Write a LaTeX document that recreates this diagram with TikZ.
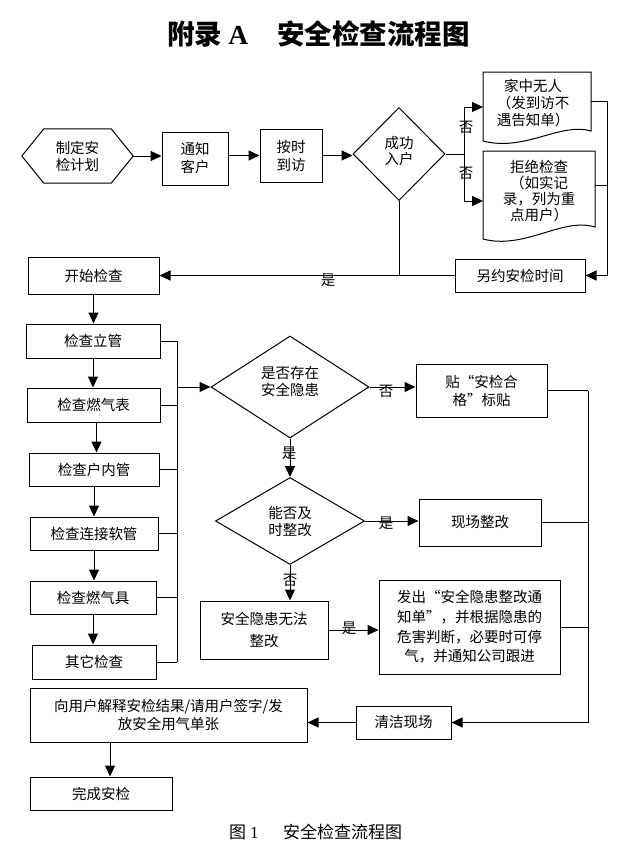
\documentclass[tikz,border=0pt]{standalone}
\usepackage{fontspec}
\setmainfont{Noto Sans CJK SC}
\newfontfamily\latinserif{Liberation Serif}
\usetikzlibrary{arrows.meta,shapes.geometric}
\newcommand\fs{\fontsize{14.5}{17}\selectfont}
\begin{document}
\begin{tikzpicture}[x=1pt,y=-1pt,
 box/.style={draw, line width=1pt, inner sep=0pt, align=center, font=\fs},
 plain/.style={inner sep=0pt, align=center, font=\fs},
 dia/.style={draw, diamond, line width=1pt, inner sep=0pt, align=center, font=\fs},
 arr/.style={line width=1pt, -{Triangle[length=11pt,width=10pt]}},
 ln/.style={line width=1pt},
 lbl/.style={inner sep=0pt, font=\fs}]
\useasboundingbox (0,0) rectangle (626,855);

% title
\node[anchor=west, inner sep=0pt, font=\fontsize{27.5}{30}\selectfont\bfseries] (t1) at (167,34) {附录 {\latinserif A}};
\node[anchor=west, inner sep=0pt, font=\fontsize{27.5}{30}\selectfont\bfseries] (t2) at (277,34) {安全检查流程图};

% top row
\node[plain, minimum width=111pt, minimum height=54pt] (plan) at (77.5,156) {制定安\\检计划};
\draw[ln] (plan.west) -- ([xshift=22pt]plan.north west) -- ([xshift=-22pt]plan.north east) -- (plan.east) -- ([xshift=-22pt]plan.south east) -- ([xshift=22pt]plan.south west) -- cycle;
\node[box, minimum width=66pt, minimum height=53pt, font=\fontsize{14.5}{18}\selectfont] (notify) at (195,158.5) {通知\\客户};
\node[box, minimum width=62pt, minimum height=53pt, font=\fontsize{14.5}{18}\selectfont] (visit) at (291,155.5) {按时\\到访};
\node[dia, minimum width=92pt, minimum height=93pt] (enter) at (399,154) {};
\node[plain, font=\fontsize{14.5}{16}\selectfont] (entertxt) at (399,151) {成功\\入户};

% documents
\draw[ln] (483,72) -- (591,72) -- (591,131) .. controls (560,122) and (525,152) .. (483,141) -- cycle;
\node[plain] (doc1) at (533,103) {家中无人\\（发到访不\\遇告知单）};
\draw[ln] (483,151) -- (595,151) -- (595,227) .. controls (562,217) and (525,250) .. (483,239) -- cycle;
\node[plain, font=\fontsize{14.5}{15.7}\selectfont] (doc2) at (539,191) {拒绝检查\\（如实记\\录，列为重\\点用户）};
\coordinate (d1w) at (483,107);
\coordinate (d2w) at (483,201);
\coordinate (d1e) at (591,101);
\coordinate (d2e) at (595,185);
\coordinate (br) at (464,154);
\coordinate (rb) at (607,0);

\node[box, minimum width=130pt, minimum height=33pt] (resched) at (520,275.5) {另约安检时间};
\node[box, minimum width=131pt, minimum height=37pt] (start) at (93.5,275.5) {开始检查};

% checks
\node[box, minimum width=134pt, minimum height=34pt] (c1) at (93,341) {检查立管};
\node[box, minimum width=133pt, minimum height=34pt] (c2) at (93.5,405) {检查燃气表};
\node[box, minimum width=130pt, minimum height=33pt] (c3) at (94,469.5) {检查户内管};
\node[box, minimum width=128pt, minimum height=33pt] (c4) at (94,533.5) {检查连接软管};
\node[box, minimum width=126pt, minimum height=33pt] (c5) at (93,597.5) {检查燃气具};
\node[box, minimum width=124pt, minimum height=34pt] (c6) at (94,662) {其它检查};
\coordinate (bus) at (177,387);

% middle
\node[dia, minimum width=158pt, minimum height=102pt] (hazard) at (290,387) {};
\node[plain] (hazardtxt) at (290,381.5) {是否存在\\安全隐患};
\node[box, minimum width=131pt, minimum height=53pt, font=\fontsize{14.5}{18}\selectfont] (sticker) at (481.5,390.5) {贴“安检合\\格”标贴};
\node[dia, minimum width=149pt, minimum height=87pt] (fixable) at (290,521) {能否及\\时整改};
\node[box, minimum width=122pt, minimum height=47pt] (onsite) at (480,522.5) {现场整改};
\node[box, minimum width=128pt, minimum height=58pt, font=\fontsize{14.5}{22}\selectfont] (unfix) at (264,630) {安全隐患无法\\整改};
\node[box, minimum width=181pt, minimum height=94pt, font=\fontsize{14.5}{19.7}\selectfont] (notice) at (469.5,627) {发出“安全隐患整改通\\知单”，并根据隐患的\\危害判断，必要时可停\\气，并通知公司跟进};
\coordinate (rb2) at (588,0);

% bottom
\node[box, minimum width=95pt, minimum height=33pt] (clean) at (403.5,722.5) {清洁现场};
\node[box, minimum width=277pt, minimum height=54pt, font=\fontsize{14.5}{18}\selectfont] (explain) at (168.5,715) {向用户解释安检结果/请用户签字/发\\放安全用气单张};
\node[box, minimum width=142pt, minimum height=33pt] (done) at (101,793.5) {完成安检};

% caption
\node[anchor=west, inner sep=0pt, font=\fontsize{17}{20}\selectfont] (cap1) at (229,832) {图 {\latinserif 1}};
\node[anchor=west, inner sep=0pt, font=\fontsize{17}{20}\selectfont] (cap2) at (283,832) {安全检查流程图};

% connectors top
\draw[arr] (plan.east) -- (plan.east -| notify.west);
\draw[arr] (notify.east |- visit.west) -- (visit.west);
\draw[arr] (visit.east) -- (visit.east -| enter.west);
\draw[ln] (enter.east) -- (br);
\draw[arr] (br) |- (d1w);
\draw[arr] (br) |- (d2w);
\draw[ln] (d1e) -- (d1e -| rb);
\draw[ln] (d2e) -- (d2e -| rb);
\draw[arr] (d1e -| rb) |- (resched.east);
\draw[arr] (resched.west) -- (start.east);
\draw[ln] (enter.south) -- (enter.south |- start.east);
\node[lbl] (n1) at (466,127) {否};
\node[lbl] (n2) at (466,173) {否};
\node[lbl] (y1) at (328,280) {是};

% left column
\draw[arr] (start.south) -- (start.south |- c1.north);
\draw[arr] (c1.south) -- (c1.south |- c2.north);
\draw[arr] ([xshift=3pt]c2.south) -- ([xshift=3pt]c2.south |- c3.north);
\draw[arr] (c3.south) -- (c3.south |- c4.north);
\draw[arr] (c4.south) -- (c4.south |- c5.north);
\draw[arr] (c5.south) -- (c5.south |- c6.north);
\foreach \n in {c1,c2,c3,c4,c5,c6} \draw[ln] (\n.east) -- (\n.east -| bus);
\draw[ln] (c1.east -| bus) -- (c6.east -| bus);
\draw[arr] (bus) -- (hazard.west);

% middle connectors
\draw[arr] (hazard.east) -- (hazard.east -| sticker.west);
\draw[arr] (hazard.south) -- (fixable.north);
\draw[arr] (fixable.east) -- (fixable.east -| onsite.west);
\draw[arr] (fixable.south) -- (fixable.south |- unfix.north);
\draw[arr] (unfix.east) -- (unfix.east -| notice.west);
\node[lbl] (n3) at (386,391) {否};
\node[lbl] (y2) at (289,453) {是};
\node[lbl] (y3) at (386,523) {是};
\node[lbl] (n4) at (290,580) {否};
\node[lbl] (y4) at (349,628) {是};

% right bus
\draw[ln] (sticker.east) -- (sticker.east -| rb2);
\draw[ln] (onsite.east) -- (onsite.east -| rb2);
\draw[ln] (notice.east) -- (notice.east -| rb2);
\draw[arr] (sticker.east -| rb2) |- (clean.east);
\draw[arr] (clean.west) -- (clean.west -| explain.east);
\draw[arr] ([xshift=-58.5pt]explain.south) -- ([xshift=-58.5pt]explain.south |- done.north);
\end{tikzpicture}
\end{document}
